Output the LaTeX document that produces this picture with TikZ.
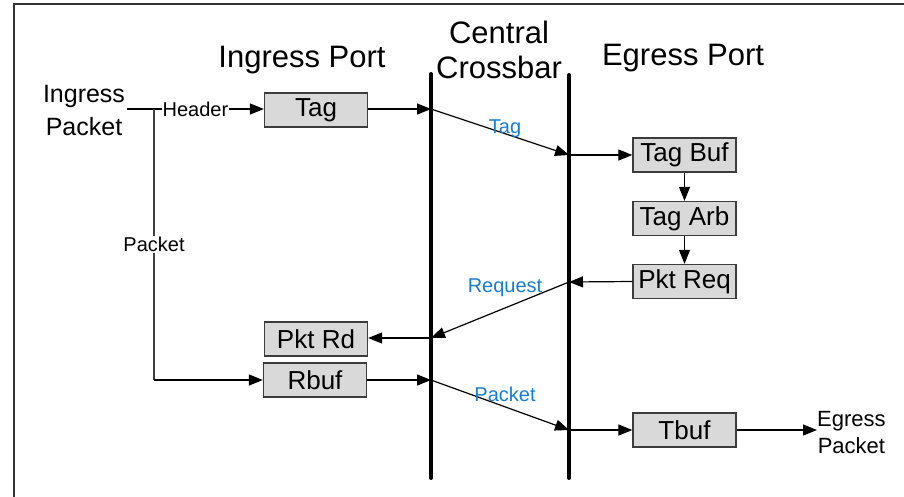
\documentclass[tikz,border=0pt]{standalone}
\usepackage{fontspec}
\setmainfont{Liberation Sans}
\usetikzlibrary{arrows.meta}
\definecolor{lblblue}{RGB}{25,125,205}
\definecolor{boxfill}{RGB}{217,217,217}
\definecolor{boxline}{RGB}{60,60,60}
\tikzset{
  unitbox/.style={draw=boxline, fill=boxfill, line width=1.3pt, minimum width=103pt,
    minimum height=34pt, inner sep=0pt, font=\fontsize{26}{30}\selectfont},
  title/.style={font=\fontsize{31}{35}\selectfont, align=center, inner sep=0pt},
  sidelbl/.style={align=center, inner sep=0pt},
  conn/.style={line width=1.2pt, -{Triangle[length=14pt,width=11pt]}},
  plainline/.style={line width=1.2pt},
  smalllbl/.style={font=\fontsize{20}{24}\selectfont, fill=white, inner sep=1pt},
  bluelbl/.style={font=\fontsize{20}{24}\selectfont, text=lblblue, inner sep=0pt, anchor=base},
  crossbar/.style={line width=4pt, line cap=round},
}
\begin{document}
\begin{tikzpicture}[x=1pt,y=-1pt]
\useasboundingbox (0,0) rectangle (904,496);
% frame (only the top and left edges fall inside the page)
\draw[line width=1.5pt, draw=black!80] (14,520) -- (14,4) -- (930,4);

% column titles
\node[title, anchor=base] (tIn) at (302,67) {Ingress Port};
\node[title] (tCb) at (499,50) {Central\\Crossbar};
\node[title, anchor=base] (tEg) at (683,65) {Egress Port};

% crossbars
\coordinate (cbLtop) at (431,74);
\coordinate (cbLbot) at (431,478);
\coordinate (cbRtop) at (569,75);
\coordinate (cbRbot) at (569,478);
\draw[crossbar] (cbLtop) -- (cbLbot);
\draw[crossbar] (cbRtop) -- (cbRbot);

% crossing points on the crossbars
\coordinate (L1) at (431,109);
\coordinate (L2) at (431,338);
\coordinate (L3) at (431,380);
\coordinate (R1) at (569,155);
\coordinate (R2) at (569,282);
\coordinate (R3) at (569,430);

% ingress side
\node[sidelbl, font=\fontsize{25}{33}\selectfont] (inpkt) at (84,111) {Ingress\\Packet};
\node[unitbox] (tag) at (316,110) {Tag};
\node[unitbox] (pktrd) at (316,339) {Pkt Rd};
\node[unitbox] (rbuf) at (315,380) {Rbuf};

% egress side
\node[unitbox] (tagbuf) at (684.5,155) {Tag Buf};
\node[unitbox] (tagarb) at (684.5,218.5) {Tag Arb};
\node[unitbox] (pktreq) at (684.5,281.5) {Pkt Req};
\node[unitbox] (tbuf) at (684.5,430) {Tbuf};
\node[sidelbl, font=\fontsize{22}{27}\selectfont, anchor=west] (egpkt) at (817,433) {Egress\\Packet};

% header / packet split
\coordinate (hstart) at (127,109);
\coordinate (split) at (154,109);
\coordinate (pturn) at (154,380);
\draw[conn] (hstart) -- (tag.west |- hstart) node[smalllbl, midway] {Header};
\draw[plainline, draw=black!75] (split) -- (pturn) node[smalllbl, midway] {Packet};
\draw[conn] (pturn) -- (rbuf.west);

% tag path
\draw[conn] (tag.east |- L1) -- (L1);
\draw[conn] (L1) -- (R1) node[bluelbl] at (505,133) {Tag};
\draw[conn] (R1) -- (tagbuf.west);
\draw[conn] (tagbuf.south) -- (tagarb.north);
\draw[conn] (tagarb.south) -- (pktreq.north);

% request path
\draw[conn] (pktreq.west) -- (R2);
\draw[conn] (R2) -- (L2) node[bluelbl] at (505,292) {Request};
\draw[conn] (L2) -- (pktrd.east |- L2);

% packet path
\draw[conn] (rbuf.east |- L3) -- (L3);
\draw[conn] (L3) -- (R3) node[bluelbl] at (505,401) {Packet};
\draw[conn] (R3) -- (tbuf.west);
\draw[conn] (tbuf.east) -- (egpkt.west |- tbuf.east);
\end{tikzpicture}
\end{document}
